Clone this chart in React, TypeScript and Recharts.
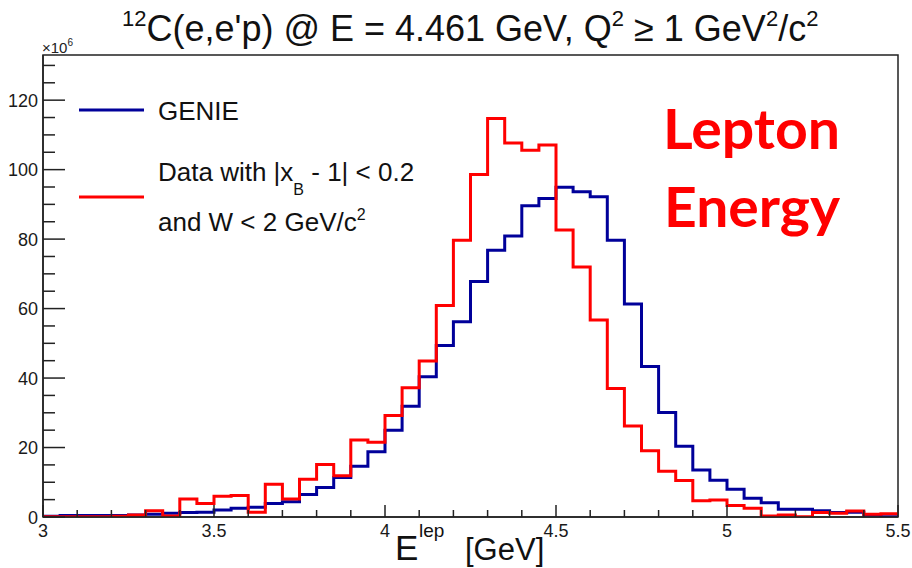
import React from 'react';
import { ComposedChart, Line, XAxis, YAxis, ReferenceArea } from 'recharts';

// Lower edges of the 50 lepton-energy bins (GeV), 0.05 GeV wide
const binEdges: number[] = [
  3.0, 3.05, 3.1, 3.15, 3.2, 3.25, 3.3, 3.35, 3.4, 3.45,
  3.5, 3.55, 3.6, 3.65, 3.7, 3.75, 3.8, 3.85, 3.9, 3.95,
  4.0, 4.05, 4.1, 4.15, 4.2, 4.25, 4.3, 4.35, 4.4, 4.45,
  4.5, 4.55, 4.6, 4.65, 4.7, 4.75, 4.8, 4.85, 4.9, 4.95,
  5.0, 5.05, 5.1, 5.15, 5.2, 5.25, 5.3, 5.35, 5.4, 5.45,
];
const upperEdge = 5.5;

// GENIE prediction per bin (x10^6)
const genieCounts: number[] = [
  0.2, 0.4, 0.4, 0.4, 0.4, 0.6, 0.8, 1.1, 1.3, 1.4,
  2.0, 2.5, 2.8, 3.9, 4.4, 6.5, 8.5, 11.4, 14.6, 18.8,
  25.0, 31.9, 40.4, 49.4, 56.2, 67.8, 76.8, 80.9, 89.6, 91.7,
  94.9, 93.6, 92.2, 79.7, 61.3, 43.3, 30.1, 20.4, 13.5, 10.6,
  8.0, 5.4, 4.1, 2.2, 2.2, 1.8, 1.3, 1.4, 0.6, 0.1,
];

// Data with |x_B - 1| < 0.2 and W < 2 GeV/c^2 per bin (x10^6)
const dataCounts: number[] = [
  0.1, 0.1, 0.1, 0.1, 0.2, 0.6, 1.8, 0.3, 5.2, 3.9,
  6.0, 6.2, 1.4, 9.4, 5.2, 10.9, 15.1, 11.9, 22.2, 21.5,
  29.2, 37.2, 44.9, 60.9, 79.7, 98.6, 114.7, 107.7, 105.6, 107.1,
  82.6, 72.0, 56.7, 37.0, 26.2, 19.1, 13.2, 10.5, 4.7, 4.9,
  3.3, 2.5, 0.3, 0.6, 0.1, 1.3, 1.1, 1.7, 0.8, 0.9,
];

const xTicks: number[] = [
  3.0, 3.1, 3.2, 3.3, 3.4, 3.5, 3.6, 3.7, 3.8, 3.9,
  4.0, 4.1, 4.2, 4.3, 4.4, 4.5, 4.6, 4.7, 4.8, 4.9,
  5.0, 5.1, 5.2, 5.3, 5.4, 5.5,
];
const yTicks: number[] = [
  0, 5, 10, 15, 20, 25, 30, 35, 40, 45, 50, 55, 60, 65,
  70, 75, 80, 85, 90, 95, 100, 105, 110, 115, 120, 125, 130,
];
const yMax = 133;

const GENIE_COLOR = '#00009a';
const DATA_COLOR = '#ff0000';
const AXIS_FONT = '"Liberation Sans", Arial, Helvetica, sans-serif';

// Step-histogram rows: each bin's value starts at its lower edge; the
// final row closes the last bin at the upper edge.
const rows = binEdges.map((e, i) => ({ e, genie: genieCounts[i], data: dataCounts[i] }));
rows.push({ e: upperEdge, genie: genieCounts[genieCounts.length - 1], data: dataCounts[dataCounts.length - 1] });

const isMajorX = (v: number) => Math.abs(v * 2 - Math.round(v * 2)) < 1e-6;

// Inward ticks in the ROOT style, with labels only on major ticks
const XTick = (props: any) => {
  const { x, y, payload } = props;
  const v: number = payload.value;
  const major = isMajorX(v);
  return (
    <g>
      <line x1={x} x2={x} y1={y} y2={y - (major ? 12 : 7)} stroke="#222" strokeWidth={1.5} />
      {major && (
        <text x={x} y={y + 20} textAnchor="middle" fontSize={18} fontFamily={AXIS_FONT} fill="#1a1a1a">
          {String(Math.round(v * 10) / 10)}
        </text>
      )}
    </g>
  );
};

const YTick = (props: any) => {
  const { x, y, payload } = props;
  const v: number = payload.value;
  const major = v % 20 === 0;
  return (
    <g>
      <line x1={x} x2={x + (major ? 22 : 12)} y1={y} y2={y} stroke="#222" strokeWidth={1.5} />
      {major && (
        <text x={x - 5} y={y + 6.5} textAnchor="end" fontSize={18} fontFamily={AXIS_FONT} fill="#1a1a1a">
          {v}
        </text>
      )}
    </g>
  );
};

export default function App() {
  return (
    <div style={{ position: 'absolute', left: 0, top: 0, width: 912, height: 568, background: '#fff' }}>
      <ComposedChart
        width={912}
        height={568}
        data={rows}
        margin={{ top: 55, right: 14, bottom: 0, left: 0 }}
      >
        <XAxis
          dataKey="e"
          type="number"
          domain={[3, 5.5]}
          ticks={xTicks}
          interval={0}
          height={51}
          tickSize={0}
          tickMargin={0}
          tick={<XTick />}
          axisLine={{ stroke: '#222', strokeWidth: 1.5 }}
          allowDataOverflow
        />
        <YAxis
          type="number"
          domain={[0, yMax]}
          ticks={yTicks}
          interval={0}
          width={43}
          tickSize={0}
          tickMargin={0}
          tick={<YTick />}
          axisLine={{ stroke: '#222', strokeWidth: 1.5 }}
          allowDataOverflow
        />
        <ReferenceArea x1={3} x2={5.5} y1={0} y2={yMax} fill="none" stroke="#222" strokeWidth={1.5} />
        <Line
          type="stepAfter"
          dataKey="genie"
          stroke={GENIE_COLOR}
          strokeWidth={3}
          dot={false}
          activeDot={false}
          isAnimationActive={false}
        />
        <Line
          type="stepAfter"
          dataKey="data"
          stroke={DATA_COLOR}
          strokeWidth={3}
          dot={false}
          activeDot={false}
          isAnimationActive={false}
        />
      </ComposedChart>

      <svg
        width={912}
        height={568}
        style={{ position: 'absolute', left: 0, top: 0, pointerEvents: 'none' }}
      >
        {/* Title */}
        <text x={122} y={41} fontSize={36} fontFamily={AXIS_FONT} fill="#111">
          <tspan fontSize={22} dy={-15}>12</tspan>
          <tspan dy={15}>C(e,e'p) @ E = 4.461 GeV, Q</tspan>
          <tspan fontSize={22} dy={-15}>2</tspan>
          <tspan dy={15}> ≥ 1 GeV</tspan>
          <tspan fontSize={22} dy={-15}>2</tspan>
          <tspan dy={15}>/c</tspan>
          <tspan fontSize={22} dy={-15}>2</tspan>
        </text>

        {/* Axis exponent */}
        <text x={42} y={53} fontSize={15} fontFamily={AXIS_FONT} fill="#222">
          ×10<tspan fontSize={10} dy={-7}>6</tspan>
        </text>

        {/* Legend */}
        <line x1={79} x2={144} y1={110} y2={110} stroke={GENIE_COLOR} strokeWidth={3} />
        <text x={158} y={120} fontSize={26} fontFamily={AXIS_FONT} fill="#111">GENIE</text>
        <line x1={79} x2={144} y1={197} y2={197} stroke={DATA_COLOR} strokeWidth={3} />
        <text x={158} y={181} fontSize={26} fontFamily={AXIS_FONT} fill="#111">
          Data with |x<tspan fontSize={16} dy={14}>B</tspan>
          <tspan dy={-14}> - 1| &lt; 0.2</tspan>
        </text>
        <text x={158} y={231} fontSize={26} fontFamily={AXIS_FONT} fill="#111">
          and W &lt; 2 GeV/c<tspan fontSize={16} dy={-11}>2</tspan>
        </text>

        {/* Annotation */}
        <text x={663} y={149} fontSize={55} fontWeight={700} fontFamily='Lato, "Open Sans", sans-serif'
          fill="#ff0000" textLength={177} lengthAdjust="spacingAndGlyphs">Lepton</text>
        <text x={664} y={227} fontSize={55} fontWeight={700} fontFamily='Lato, "Open Sans", sans-serif'
          fill="#ff0000" textLength={176} lengthAdjust="spacingAndGlyphs">Energy</text>

        {/* X axis title */}
        <text x={395} y={560} fontSize={35} fontFamily={AXIS_FONT} fill="#111">E</text>
        <text x={419} y={537} fontSize={19} fontFamily={AXIS_FONT} fill="#111">lep</text>
        <text x={465} y={560} fontSize={31} fontFamily={AXIS_FONT} fill="#111">[GeV]</text>
      </svg>
    </div>
  );
}
